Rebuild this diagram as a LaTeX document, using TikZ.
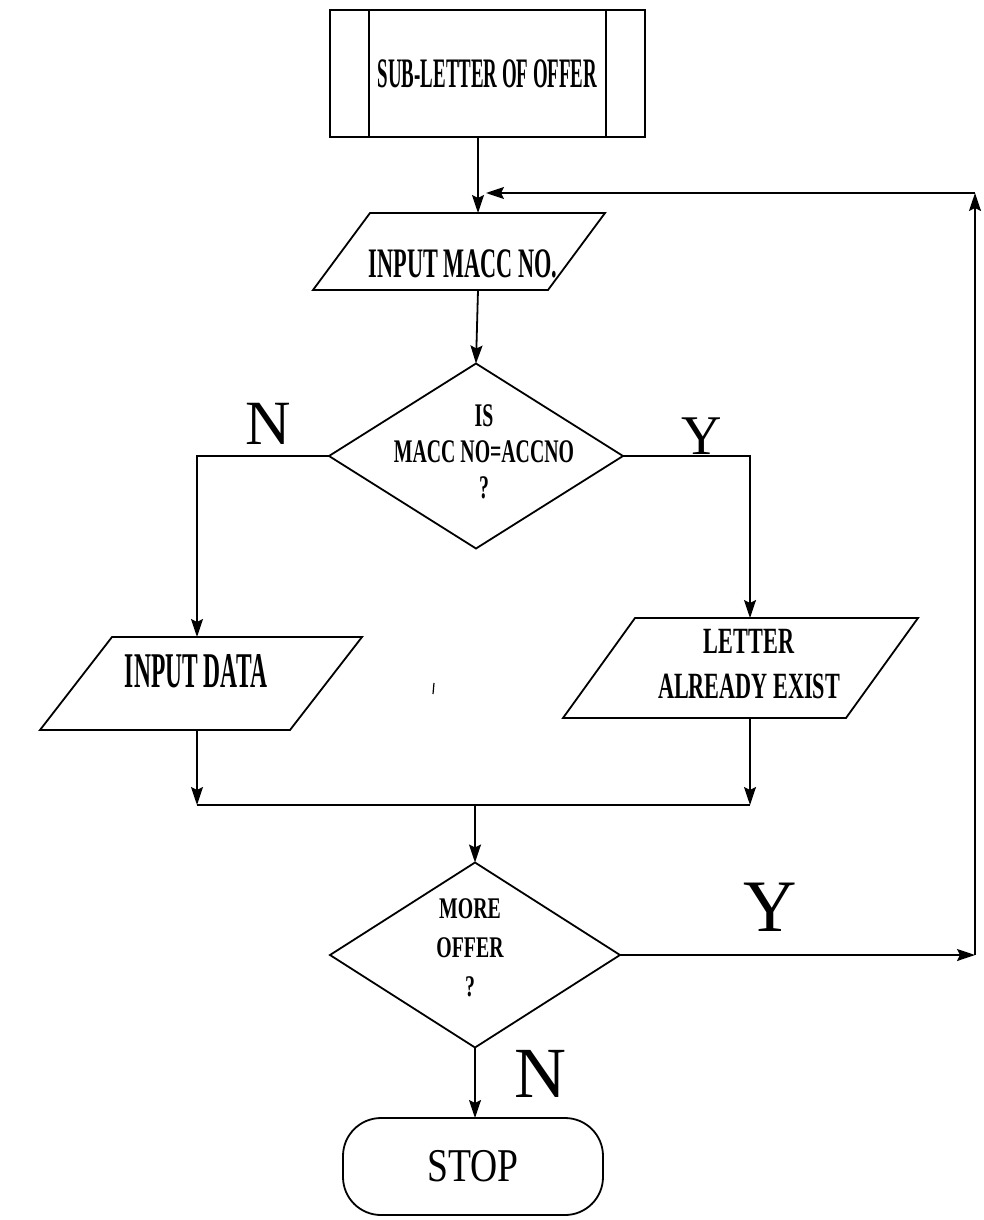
\documentclass[tikz,border=0pt]{standalone}
\usepackage{fontspec}
\setmainfont{Liberation Serif}
\usetikzlibrary{arrows.meta}
\newcommand\sqz[3]{\fontsize{#1}{#2}\selectfont\addfontfeature{FakeStretch=#3}}
\newcommand\lines[1]{\begin{tabular}{@{}c@{}}#1\end{tabular}}
\begin{document}
\begin{tikzpicture}[x=1pt,y=-1pt,
  line width=1.8pt,
  >={Stealth[length=18pt,width=12pt,inset=3pt]},
  frame/.style={inner sep=0pt,outer sep=0pt},
  txt/.style={inner sep=0pt,outer sep=0pt},
  yn/.style={inner sep=0pt,outer sep=0pt},
]
\useasboundingbox (0,0) rectangle (984,1220);
\coordinate (cx) at (478,0);
\coordinate (lx) at (197,0);
\coordinate (rx) at (750,0);

% predefined process
\node[frame,draw,minimum width=315pt,minimum height=127pt] (sub) at (487.5,73.5)
  {\bfseries\sqz{42}{48}{0.45}SUB-LETTER OF OFFER};
\draw ([xshift=39pt]sub.north west) -- ([xshift=39pt]sub.south west);
\draw ([xshift=-39pt]sub.north east) -- ([xshift=-39pt]sub.south east);

% input MACC NO.
\node[frame,minimum width=292pt,minimum height=77pt] (p1) at (459,251.5) {};
\draw ([xshift=57pt]p1.north west) -- (p1.north east) -- ([xshift=-57pt]p1.south east) -- (p1.south west) -- cycle;
\node[txt] (p1t) at (463,264) {\bfseries\sqz{42}{48}{0.53}INPUT MACC NO.};

% decision 1
\node[frame,minimum width=294pt,minimum height=185pt] (d1) at (476,456) {};
\draw (d1.north) -- (d1.east) -- (d1.south) -- (d1.west) -- cycle;
\node[txt] (d1t) at (484,455) {\bfseries\sqz{33}{36}{0.6}\lines{IS\\MACC NO=ACCNO\\?}};

% input data
\node[frame,minimum width=322pt,minimum height=93pt] (p2) at (201,683.5) {};
\draw ([xshift=72pt]p2.north west) -- (p2.north east) -- ([xshift=-72pt]p2.south east) -- (p2.south west) -- cycle;
\node[txt] (p2t) at (196,671) {\bfseries\sqz{50}{56}{0.47}INPUT DATA};

% letter already exist
\node[frame,minimum width=355pt,minimum height=100pt] (p3) at (740.5,668) {};
\draw ([xshift=72pt]p3.north west) -- (p3.north east) -- ([xshift=-72pt]p3.south east) -- (p3.south west) -- cycle;
\node[txt] (p3t) at (749,667) {\bfseries\sqz{37}{45}{0.6}\lines{LETTER\\ALREADY EXIST}};

% decision 2
\node[frame,minimum width=290pt,minimum height=185pt] (d2) at (475,955) {};
\draw (d2.north) -- (d2.east) -- (d2.south) -- (d2.west) -- cycle;
\node[txt] (d2t) at (470,950) {\bfseries\sqz{30}{39}{0.66}\lines{MORE\\OFFER\\?}};

% stop
\node[frame,draw,rounded corners=38pt,minimum width=260pt,minimum height=97pt] (stop) at (473,1166.5)
  {\sqz{47}{50}{0.8}STOP};

% labels
\node[yn] (n1) at (268,424) {\fontsize{63}{63}\selectfont N};
\node[yn] (y1) at (702,436) {\fontsize{56}{56}\selectfont Y};
\node[yn] (y2) at (770,907) {\fontsize{74}{74}\selectfont Y};
\node[yn] (n2) at (540,1074) {\fontsize{72}{72}\selectfont N};

% connectors
\coordinate (m) at (475,805);
\coordinate (c1) at (975,955);
\coordinate (c2) at (975,193);
\coordinate (c3) at (486,193);
\draw[->] (cx |- sub.south) -- (cx |- p1.north);
\draw[->] (cx |- p1.south) -- (d1.north);
\draw[->] (d1.west) -| (lx |- p2.north);
\draw[->] (d1.east) -| (rx |- p3.north);
\draw[->] (lx |- p2.south) -- (lx |- m);
\draw[->] (rx |- p3.south) -- (rx |- m);
\draw (lx |- m) -- (rx |- m);
\draw[->] (m) -- (d2.north);
\draw[->] (d2.east) -- (c1);
\draw[->] (c1) -- (c2);
\draw[->] (c2) -- (c3);
\draw[->] (d2.south) -- (d2.south |- stop.north);

% stray mark in the scan
\draw[line width=1.2pt] (434,683) -- (433,694);
\end{tikzpicture}
\end{document}
